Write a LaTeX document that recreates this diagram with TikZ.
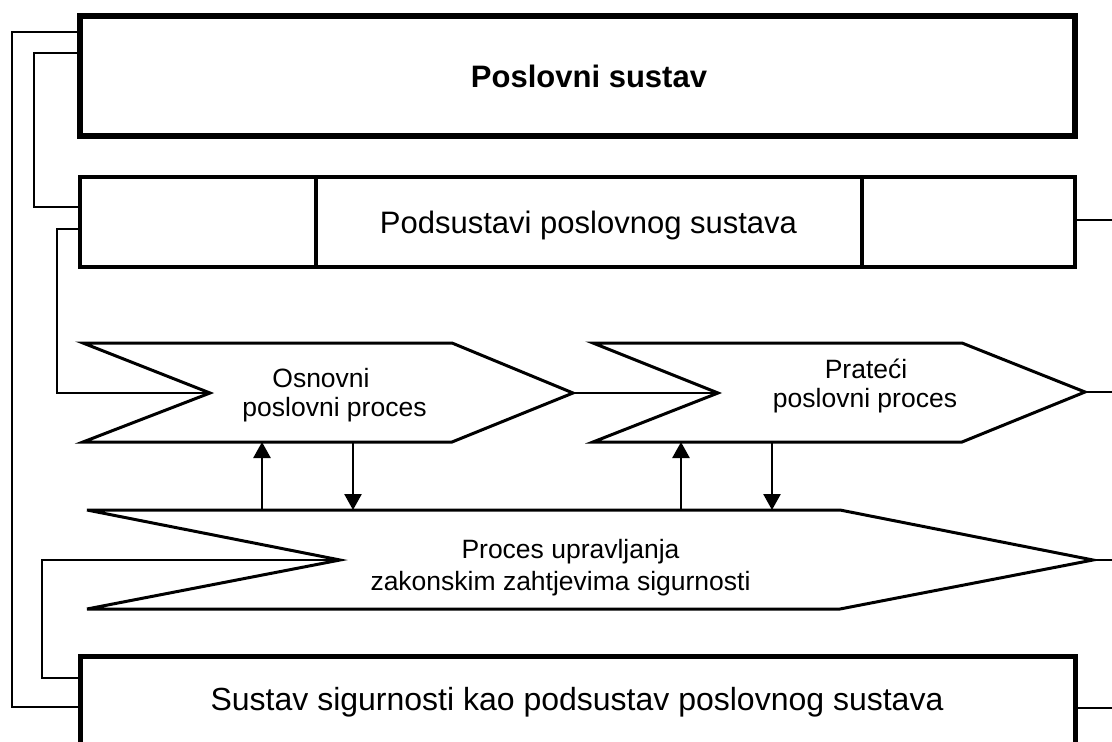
\documentclass[tikz,border=0pt]{standalone}
\usepackage{fontspec}
\setmainfont{Liberation Sans}
\usetikzlibrary{arrows.meta,calc}
\begin{document}
\begin{tikzpicture}[x=1pt,y=-1pt,
  bigbox/.style={draw, line width=#1, minimum width=995pt, inner sep=0pt},
  chev/.style={draw, line width=3pt, line join=miter},
  conn/.style={draw, line width=1.7pt},
  arr/.style={draw, line width=2.6pt, -{Triangle[length=16pt,width=17pt]}},
  bigtxt/.style={font=\fontsize{31}{36}\selectfont, inner sep=0pt, anchor=base},
  smalltxt/.style={font=\fontsize{26.5}{30}\selectfont, inner sep=0pt, anchor=base}]
\useasboundingbox (0,0) rectangle (1112,742);
\clip (0,0) rectangle (1112,742);
\fill[white] (0,0) rectangle (1112,742);

% boxes
\node[bigbox=6pt, minimum height=120pt] (top) at (577.5,76) {};
\node[bigbox=4pt, minimum height=89.5pt] (sub) at (577.5,221.75) {};
\node[bigbox=5pt, minimum height=287.5pt] (sec) at (577.5,800.25) {};
\draw[line width=4pt] (316,0 |- sub.north) -- (316,0 |- sub.south);
\draw[line width=4pt] (862,0 |- sub.north) -- (862,0 |- sub.south);

\node[bigtxt, font=\fontsize{31}{36}\selectfont\bfseries] (tTop) at (589,87) {Poslovni sustav};
\node[bigtxt] (tSub) at (588.5,233) {Podsustavi poslovnog sustava};
\node[bigtxt, font=\fontsize{32}{36}\selectfont] (tSec) at (577,710) {Sustav sigurnosti kao podsustav poslovnog sustava};

% chevron 1
\coordinate (c1n) at (210,393);
\coordinate (c1t) at (573,393);
\coordinate (c1top) at (83,343);
\coordinate (c1bot) at (83,442);
\draw[chev] (c1top) -- (452,343) -- (c1t) -- (452,442) -- (c1bot) -- (c1n) -- cycle;
\node[smalltxt] (t1a) at (321,387) {Osnovni};
\node[smalltxt] (t1b) at (334.5,416) {poslovni proces};

% chevron 2
\coordinate (c2n) at (718,393);
\coordinate (c2t) at (1085,392);
\coordinate (c2top) at (593,343);
\coordinate (c2bot) at (593,442);
\draw[chev] (c2top) -- (962,343) -- (c2t) -- (962,442) -- (c2bot) -- (c2n) -- cycle;
\node[smalltxt] (t2a) at (866,378) {Prateći};
\node[smalltxt] (t2b) at (865,407) {poslovni proces};

% chevron 3
\coordinate (c3n) at (340,560);
\coordinate (c3t) at (1093,560);
\coordinate (c3top) at (87,510);
\coordinate (c3bot) at (87,609);
\draw[chev] (c3top) -- (840,510) -- (c3t) -- (840,609) -- (c3bot) -- (c3n) -- cycle;
\node[smalltxt] (t3a) at (570.5,558) {Proces upravljanja};
\node[smalltxt] (t3b) at (560.5,590) {zakonskim zahtjevima sigurnosti};

% arrows between chevrons
\draw[arr] (262,0 |- c3top) -- (262,0 |- c1bot);
\draw[arr] (353,0 |- c1bot) -- (353,0 |- c3top);
\draw[arr] (681,0 |- c3top) -- (681,0 |- c2bot);
\draw[arr] (772,0 |- c2bot) -- (772,0 |- c3top);

% left connectors
\draw[conn] (top.west |- 0,32) -| (12,707) -- (sec.west |- 0,707);
\draw[conn] (top.west |- 0,53) -| (34,207) -- (sub.west |- 0,207);
\draw[conn] (sub.west |- 0,229) -| (57,0 |- c1n) -- (c1n);
\draw[conn] (sec.west |- 0,678) -| (42,0 |- c3n) -- (c3n);
\draw[conn] (c1t) -- (c2n);

% right connectors
\coordinate (r1) at (1112,220);
\coordinate (r2) at (1112,392);
\coordinate (r3) at (1112,560);
\coordinate (r4) at (1112,708);
\draw[conn] (sub.east |- r1) -- (r1);
\draw[conn] (c2t) -- (r2);
\draw[conn] (c3t) -- (r3);
\draw[conn] (sec.east |- r4) -- (r4);
\end{tikzpicture}
\end{document}
